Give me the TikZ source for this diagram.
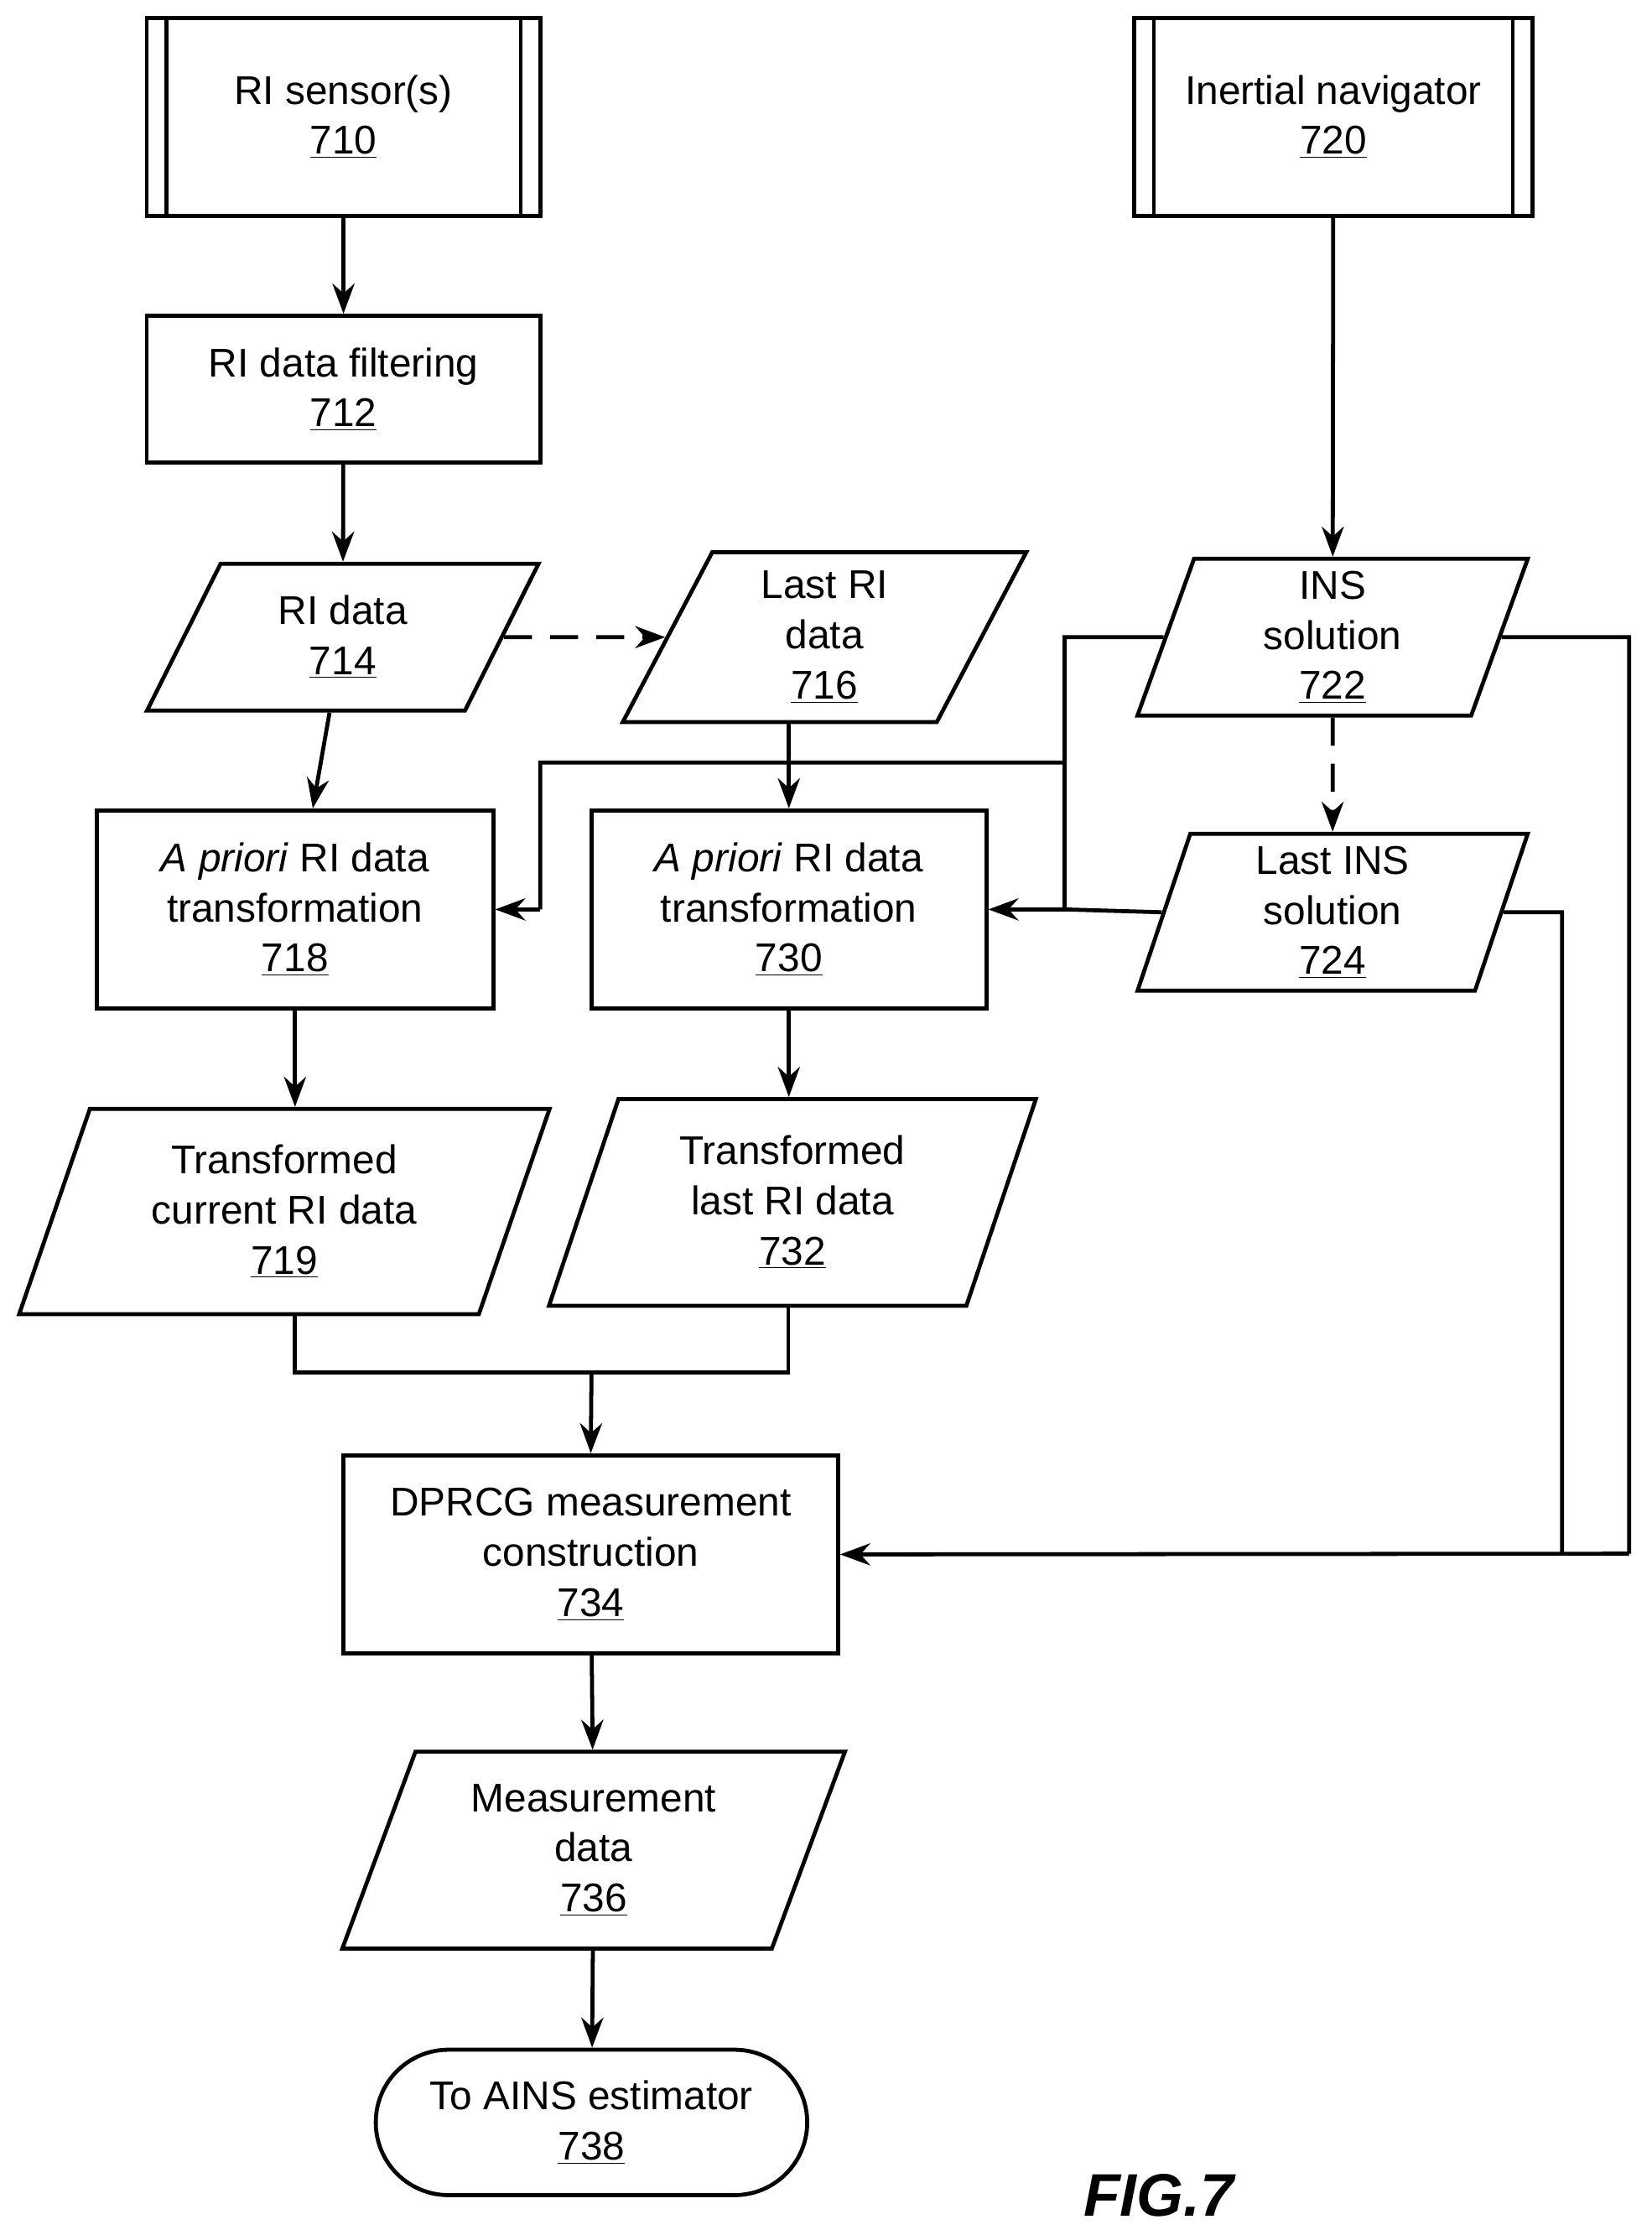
\documentclass[tikz,border=0pt]{standalone}
\usepackage{fontspec}
\setmainfont{Liberation Sans}
\usetikzlibrary{arrows.meta,shapes.geometric,shapes.misc}
\tikzset{
    >={Stealth[length=15pt,width=11pt]},
    every node/.append style={align=center,font=\fontsize{20}{25}\selectfont},
    flow/.style={line width=2pt},
    proc/.style={rectangle,draw,line width=2pt,minimum width=#1},
    data/.style={trapezium,draw,line width=2pt,trapezium stretches=true,
        trapezium left angle=#1,trapezium right angle=180-#1},
    term/.style={rounded rectangle,draw,line width=2pt},
}
\begin{document}
\begin{tikzpicture}[x=0.025cm,y=-0.025cm]
\useasboundingbox (0,0) rectangle (1159,1568);
% sources
\node[proc=6.9cm,minimum height=3.475cm] (s710) at (241,82) {RI sensor(s)\\\underline{710}};
\node[proc=6.975cm,minimum height=3.475cm] (s720) at (935.5,82) {Inertial navigator\\\underline{720}};
\foreach \n in {s710,s720}{
  \draw[flow] ([xshift=0.375cm]\n.north west) -- ([xshift=0.375cm]\n.south west);
  \draw[flow] ([xshift=-0.375cm]\n.north east) -- ([xshift=-0.375cm]\n.south east);
}
% processing
\node[proc=6.9cm,minimum height=2.575cm] (f712) at (241,273) {RI data filtering\\\underline{712}};
\node[data=66,minimum width=6.875cm,minimum height=2.575cm] (d714) at (240.5,447) {RI data\\\underline{714}};
\node[data=69,minimum width=7.075cm,minimum height=2.975cm] (d716) at (578.5,447) {Last RI\\data\\\underline{716}};
\node[data=78,minimum width=6.85cm,minimum height=2.75cm] (d722) at (935,447) {INS\\solution\\\underline{722}};
\node[data=78,minimum width=6.85cm,minimum height=2.75cm] (d724) at (935,640) {Last INS\\solution\\\underline{724}};
\node[proc=6.95cm,minimum height=3.475cm] (t718) at (207,638) {\emph{A priori} RI data\\transformation\\\underline{718}};
\node[proc=6.925cm,minimum height=3.475cm] (t730) at (553.5,638) {\emph{A priori} RI data\\transformation\\\underline{730}};
\node[data=71,minimum width=9.325cm,minimum height=3.6cm] (d719) at (199.5,850) {Transformed\\current RI data\\\underline{719}};
\node[data=72,minimum width=8.55cm,minimum height=3.625cm] (d732) at (556,843.5) {Transformed\\last RI data\\\underline{732}};
\node[proc=8.675cm,minimum height=3.475cm] (m734) at (414.5,1090.5) {DPRCG measurement\\construction\\\underline{734}};
\node[data=70,minimum width=8.825cm,minimum height=3.45cm] (d736) at (416.5,1298) {Measurement\\data\\\underline{736}};
\node[term,minimum width=7.8cm,minimum height=2.55cm] (e738) at (415,1489) {To AINS estimator\\\underline{738}};
\node[font=\fontsize{30}{36}\selectfont\bfseries\itshape] (fig) at (813,1540) {FIG.7};
% connectors
\draw[flow,->] (s710) -- (f712);
\draw[flow,->] (f712) -- (d714);
\draw[flow,->] (d714) -- (t718);
\draw[flow,->] (t718.south) -- (t718.south |- d719.north);
\draw[flow,->] (d716.south -| t730) -- (t730);
\draw[flow,->] (t730) -- (t730.south |- d732.north);
\draw[flow,->,dash pattern=on 14pt off 9pt] (d714.east) -- (d716.west);
\draw[flow,->] (s720) -- (d722);
\draw[flow,->,dash pattern=on 14pt off 9pt] (d722) -- (d724);
\coordinate (j) at (747,447);
\draw[flow] (d722.west) -- (j) -- (747,535) -- (379,535) -- (379,638);
\draw[flow,->] (379,638) -- (t718.east);
\draw[flow,->] (j) -- (747,638) -- (t730.east);
\draw[flow] (d724.west) -- (747,638);
\draw[flow] (d722.east) -- (1143,447) -- (1143,1090);
\draw[flow,->] (1143,1090) -- (m734.east);
\draw[flow] (d724.east) -- (1096,640) -- (1096,1090);
\draw[flow] (207,922) -- (207,963) -- (553,963) -- (553,916);
\draw[flow,->] (415,963) -- (m734.north);
\draw[flow,->] (m734) -- (d736);
\draw[flow,->] (d736) -- (e738);
\end{tikzpicture}
\end{document}
